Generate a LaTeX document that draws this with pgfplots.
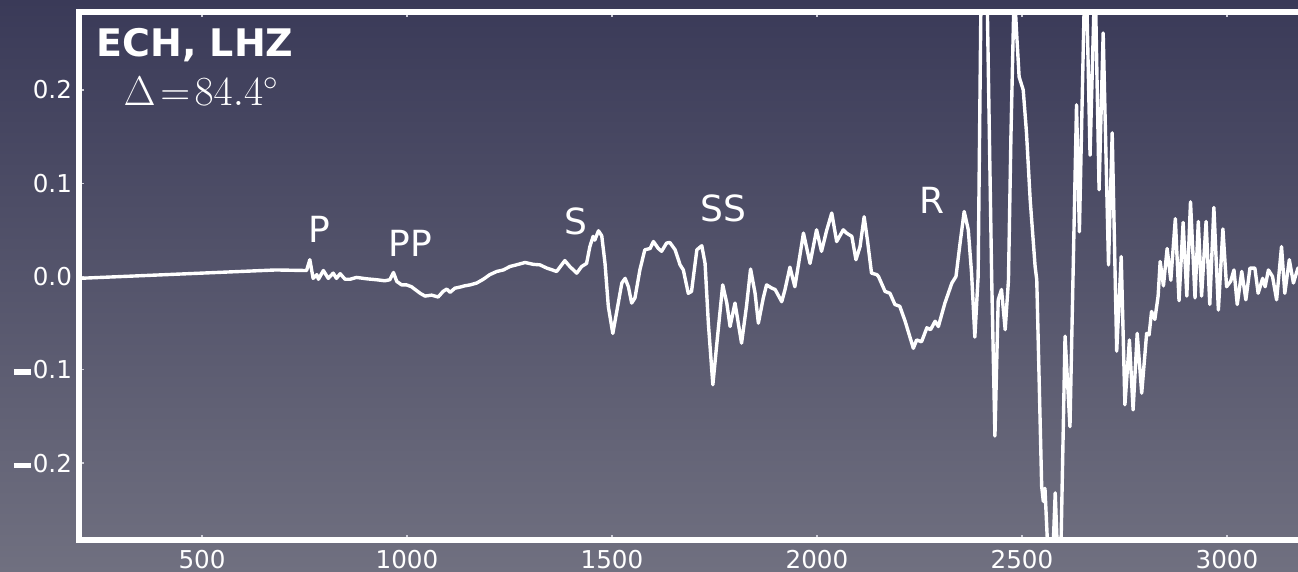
\documentclass[border=0pt]{standalone}
\usepackage{pgfplots}
\pgfplotsset{compat=1.18}
\usepackage{fontspec}
\setmainfont{DejaVu Sans}

\definecolor{bgtop}{RGB}{58,58,88}
\definecolor{bgbot}{RGB}{112,112,128}
\definecolor{tickgray}{RGB}{205,205,215}
% heavy minus used in the negative y tick labels
\newcommand{\negbar}{\rule[2.1pt]{8.5pt}{2.6pt}\kern1pt}

\begin{document}
\begin{tikzpicture}[x=1pt,y=1pt]
\useasboundingbox (0,0) rectangle (649,286);
\shade[top color=bgtop,bottom color=bgbot] (0,0) rectangle (649,286);
\clip (0,0) rectangle (649,286);
\begin{axis}[
  at={(39.5pt,15.75pt)}, anchor=south west,
  scale only axis, width=615pt, height=264pt,
  xmin=200, xmax=3200, ymin=-0.283, ymax=0.283,
  axis line style={white, line width=3pt, line cap=rect},
  tick align=inside,
  major tick length=2.5pt,
  tick style={tickgray, line width=0.6pt},
  xtick={500,1000,1500,2000,2500,3000},
  xticklabels={500,1000,1500,2000,2500,3000},
  ytick={-0.2,-0.1,0,0.1,0.2},
  yticklabels={\negbar0.2,\negbar0.1,0.0,0.1,0.2},
  tick label style={font=\fontsize{12.3}{14}\selectfont, text=white},
  xticklabel style={yshift=-1.5pt},
]
\addplot[white, line width=1.7pt, line join=round, mark=none] coordinates {
(200,-0.002) (680,0.007) (755,0.0064) (763,0.018) (771,-0.002) (780,0.002)
(784,-0.003) (796,0.0064) (808,-0.002) (820,0.0036) (828,-0.002) (837,0.003)
(849,-0.003) (861,-0.003) (877,-0.001) (902,-0.0025) (926,-0.0035) (946,-0.0046)
(958,-0.0035) (967,0.0043) (975,-0.0053) (987,-0.009) (999,-0.009) (1011,-0.011)
(1032,-0.018) (1044,-0.021) (1060,-0.020) (1076,-0.022) (1088,-0.016) (1097,-0.0135)
(1105,-0.017) (1117,-0.0125) (1129,-0.0114) (1141,-0.010) (1154,-0.009) (1170,-0.007)
(1186,-0.003) (1202,0.002) (1219,0.0054) (1235,0.007) (1251,0.0107) (1267,0.0125)
(1288,0.015) (1308,0.013) (1324,0.0125) (1341,0.009) (1365,0.0054) (1385,0.017)
(1397,0.0107) (1414,0.0036) (1426,0.0107) (1438,0.014) (1446,0.032) (1454,0.043)
(1458,0.039) (1467,0.049) (1475,0.0436) (1483,0.014) (1491,-0.032) (1502,-0.061)
(1511,-0.039) (1524,-0.007) (1532,-0.002) (1540,-0.011) (1548,-0.0285) (1556,-0.023)
(1568,0.007) (1580,0.0286) (1593,0.030) (1601,0.0375) (1613,0.030) (1621,0.027)
(1633,0.0358) (1641,0.0365) (1654,0.0286) (1666,0.0125) (1674,0.007) (1686,-0.018)
(1694,-0.016) (1707,0.0286) (1719,0.033) (1727,0.014) (1735,-0.05) (1746,-0.116)
(1755,-0.075) (1770,-0.009) (1780,-0.0285) (1788,-0.0536) (1800,-0.0285) (1816,-0.0714)
(1828,-0.032) (1838,0.008) (1849,-0.018) (1857,-0.05) (1869,-0.023) (1877,-0.009)
(1890,-0.0125) (1898,-0.014) (1914,-0.027) (1922,-0.014) (1934,0.010) (1946,-0.011)
(1954,0.0107) (1967,0.0465) (1983,0.014) (1999,0.05) (2011,0.027) (2024,0.05)
(2036,0.068) (2048,0.0375) (2064,0.05) (2072,0.0465) (2085,0.043) (2095,0.018)
(2105,0.032) (2115,0.064) (2123,0.039) (2133,0.0036) (2146,0.002) (2150,0.0)
(2166,-0.016) (2178,-0.018) (2190,-0.030) (2202,-0.032) (2215,-0.048) (2235,-0.077)
(2243,-0.068) (2255,-0.070) (2268,-0.055) (2277,-0.057) (2288,-0.048) (2296,-0.0536)
(2312,-0.0285) (2329,-0.007) (2339,0.0) (2349,0.0358) (2359,0.0697) (2369,0.050)
(2377,0.0036) (2385,-0.065) (2393,0.0) (2400,0.30) (2407,0.42) (2415,0.30)
(2426,0.0) (2434,-0.171) (2442,-0.025) (2450,-0.014) (2459,-0.057) (2467,-0.004)
(2473,0.15) (2481,0.31) (2487,0.26) (2493,0.214) (2503,0.200) (2511,0.154)
(2520,0.082) (2532,0.0107) (2536,-0.0035) (2548,-0.225) (2552,-0.241) (2556,-0.227)
(2570,-0.36) (2581,-0.232) (2592,-0.36) (2605,-0.064) (2617,-0.161) (2633,0.184)
(2640,0.048) (2655,0.36) (2666,0.13) (2678,0.33) (2688,0.093) (2698,0.261)
(2711,0.0125) (2720,0.154) (2731,-0.080) (2742,0.0214) (2751,-0.1375) (2762,-0.068)
(2771,-0.143) (2781,-0.061) (2792,-0.125) (2804,-0.061) (2810,-0.0625) (2816,-0.0375)
(2824,-0.046) (2832,-0.021) (2837,0.016) (2845,-0.01) (2854,0.030) (2863,-0.004)
(2874,0.062) (2883,-0.026) (2893,0.058) (2902,-0.021) (2911,0.080) (2922,-0.023)
(2930,0.059) (2938,-0.021) (2949,0.059) (2958,-0.030) (2968,0.074) (2979,-0.036)
(2990,0.051) (2999,-0.011) (3009,-0.005) (3017,0.007) (3025,-0.030) (3036,0.0054)
(3046,-0.025) (3056,0.009) (3068,0.009) (3076,-0.018) (3087,-0.002) (3093,-0.011)
(3101,0.007) (3111,0.0) (3121,-0.025) (3133,0.032) (3141,-0.018) (3152,0.018)
(3162,-0.007) (3173,0.009) (3185,-0.004) (3195,0.006)
};
% phase labels
\node[anchor=base west, text=white, font=\fontsize{18}{20}\selectfont] at (axis cs:742,0.036) {P};
\node[anchor=base west, text=white, font=\fontsize{18}{20}\selectfont] at (axis cs:938,0.0214) {PP};
\node[anchor=base west, text=white, font=\fontsize{18}{20}\selectfont] at (axis cs:1368,0.0447) {S};
\node[anchor=base west, text=white, font=\fontsize{18}{20}\selectfont] at (axis cs:1698,0.059) {SS};
\node[anchor=base west, text=white, font=\fontsize{18}{20}\selectfont] at (axis cs:2233,0.068) {R};
% station and distance
\node[anchor=base west, inner sep=0pt, text=white, font=\bfseries\fontsize{19}{20}\selectfont] at (axis cs:242,0.2355) {ECH, LHZ};
\node[anchor=base west, inner sep=0pt, text=white, font=\fontsize{20}{24}\selectfont] at (axis cs:308,0.183) {$\Delta\mkern2mu{=}\mkern2mu84.4^\circ$};
\end{axis}
\end{tikzpicture}
\end{document}
